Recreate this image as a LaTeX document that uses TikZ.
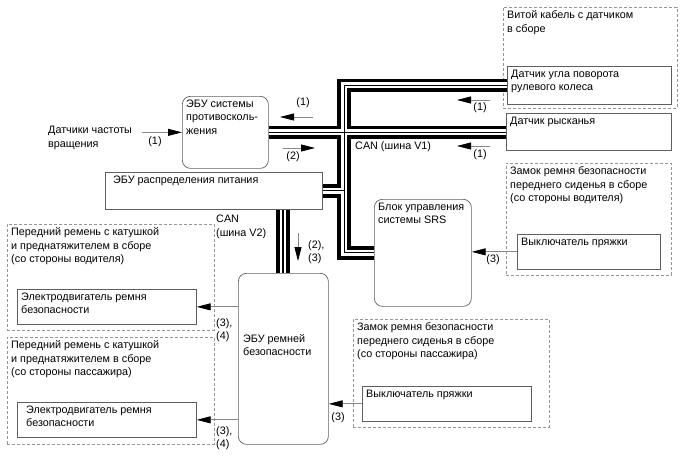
\documentclass[tikz,border=0pt]{standalone}
\usepackage{fontspec}
\setmainfont{Liberation Sans}
\usepackage{tikz}
\usetikzlibrary{arrows.meta,positioning,calc}
\definecolor{framegray}{RGB}{95,95,95}
\definecolor{dashgray}{RGB}{150,150,150}
\definecolor{shaftgray}{RGB}{135,135,135}

\begin{document}
\begin{tikzpicture}[
  x=1pt, y=-1pt,
  font=\fontsize{10.8}{13.4}\selectfont,
  box/.style={draw=framegray,line width=0.7pt,anchor=north west,inner sep=0pt},
  ecu/.style={box,rounded corners=8pt},
  assy/.style={draw=dashgray,dash pattern=on 3pt off 2pt,line width=0.7pt,anchor=north west,inner sep=0pt},
  txt/.style={anchor=north west,align=left,inner xsep=4pt,inner ysep=3.5pt},
  num/.style={inner sep=0pt,align=left},
  arrow/.style={draw=shaftgray,line width=0.8pt,-{Triangle[length=14pt,width=7pt,color=black]}},
  canbus/.style={draw=black,line width=13.5pt,postaction={draw=white,line width=6pt},postaction={draw=black,line width=1pt}},
  canbustwo/.style={draw=black,line width=14pt,postaction={draw=white,line width=6.5pt},postaction={draw=black,line width=2pt}}
]
  \useasboundingbox (0,0) rectangle (688,463);

  \node[assy,minimum width=174pt,minimum height=101pt,
    label={[txt]north west:{Витой кабель с датчиком\\в сборе}}] (cablegrp) at (503,7) {};
  \node[box,minimum width=164pt,minimum height=38pt,
    label={[txt]north west:{Датчик угла поворота\\рулевого колеса}}] (steer) at (507,66) {};
  \node[box,minimum width=165pt,minimum height=37pt,
    label={[txt]north west:{Датчик рысканья}}] (yaw) at (506,113) {};

  \node[assy,minimum width=165pt,minimum height=112pt,
    label={[txt]north west:{Замок ремня безопасности\\переднего сиденья в сборе\\(со стороны водителя)}}] (buckgrpa) at (506,163) {};
  \node[box,minimum width=143pt,minimum height=35pt,
    label={[txt]north west:{Выключатель пряжки}}] (buckle1) at (517,234) {};

  \node[assy,minimum width=196pt,minimum height=108pt,
    label={[txt]north west:{Замок ремня безопасности\\переднего сиденья в сборе\\(со стороны пассажира)}}] (buckgrpb) at (353,319) {};
  \node[box,minimum width=169pt,minimum height=35pt,
    label={[txt]north west:{Выключатель пряжки}}] (buckle2) at (362,386) {};

  \node[assy,minimum width=207pt,minimum height=106pt,
    label={[txt]north west:{Передний ремень с катушкой\\и преднатяжителем в сборе\\(со стороны водителя)}}] (motgrpa) at (7,224) {};
  \node[box,minimum width=179pt,minimum height=35pt,
    label={[txt]north west:{Электродвигатель ремня\\безопасности}}] (motor1) at (17,289) {};

  \node[assy,minimum width=207pt,minimum height=107pt,
    label={[txt]north west:{Передний ремень с катушкой\\и преднатяжителем в сборе\\(со стороны пассажира)}}] (motgrpb) at (7,337) {};
  \node[box,minimum width=179pt,minimum height=35pt,
    label={[txt,inner xsep=9pt]north west:{Электродвигатель ремня\\безопасности}}] (motor2) at (17,402) {};

  \node[ecu,minimum width=86pt,minimum height=72pt,
    label={[txt]north west:{ЭБУ системы\\противосколь-\\жения}}] (abs) at (182,96) {};
  \node[box,minimum width=217pt,minimum height=37pt,
    label={[txt,inner xsep=8pt]north west:{ЭБУ распределения питания}}] (pwr) at (105,172) {};
  \node[ecu,minimum width=97pt,minimum height=107pt,
    label={[txt]north west:{Блок управления\\системы SRS}}] (srs) at (374,199) {};
  \node[ecu,minimum width=90pt,minimum height=171pt] (belt) at (238,273) {};
  \node[num,anchor=west] (beltname) at (243,345) {ЭБУ ремней\\безопасности};

  \node[num,anchor=west] (wss) at (48,138) {Датчики частоты\\вращения};

  \coordinate (trunk) at (344,0);
  \coordinate (vtwo) at (283,0);
  \draw[canbus] (steer.west) -| (trunk |- srs.west) -- (srs.west)
    (abs.east) -- (abs.east -| yaw.west)
    (pwr.east) -- (pwr.east -| trunk);
  \draw[canbustwo] (pwr.south -| vtwo) -- (belt.north -| vtwo);

  \draw[arrow,shorten <=10pt] (wss.east |- abs.west) -- (abs.west);
  \draw[arrow] (buckle1.west) -- (buckle1.west -| srs.east);
  \draw[arrow] (buckle2.west) -- (buckle2.west -| belt.east);
  \draw[arrow] (belt.west |- motor1.east) -- (motor1.east);
  \draw[arrow] (belt.west |- motor2.east) -- (motor2.east);

  \coordinate (absin) at (313,117);
  \coordinate (absinend) at (280,117);
  \coordinate (absout) at (283,148);
  \coordinate (absoutend) at (315,148);
  \coordinate (steerin) at (490,100);
  \coordinate (steerinend) at (457,100);
  \coordinate (yawin) at (490,146);
  \coordinate (yawinend) at (457,146);
  \coordinate (belttop) at (298,233);
  \coordinate (belttopend) at (298,261);
  \draw[arrow] (absin) -- (absinend);
  \draw[arrow] (absout) -- (absoutend);
  \draw[arrow] (steerin) -- (steerinend);
  \draw[arrow] (yawin) -- (yawinend);
  \draw[arrow] (belttop) -- (belttopend);

  \node[num] (lwss) at (155,142) {(1)};
  \node[num] (labsin) at (303,103) {(1)};
  \node[num] (labsout) at (293,157) {(2)};
  \node[num] (lsteer) at (480,108) {(1)};
  \node[num] (lyaw) at (480,155) {(1)};
  \node[num,anchor=west] (lbelttop) at (308,252) {(2),\\(3)};
  \node[num] (lbuck1) at (493,260) {(3)};
  \node[num] (lbuck2) at (338,418) {(3)};
  \node[num,anchor=west] (lmot1) at (216,330) {(3),\\(4)};
  \node[num,anchor=west] (lmot2) at (216,438) {(3),\\(4)};
  \node[num,anchor=west] (canone) at (355,147) {CAN (шина V1)};
  \node[num,anchor=west] (cantwo) at (216,227) {CAN\\(шина V2)};
\end{tikzpicture}
\end{document}
